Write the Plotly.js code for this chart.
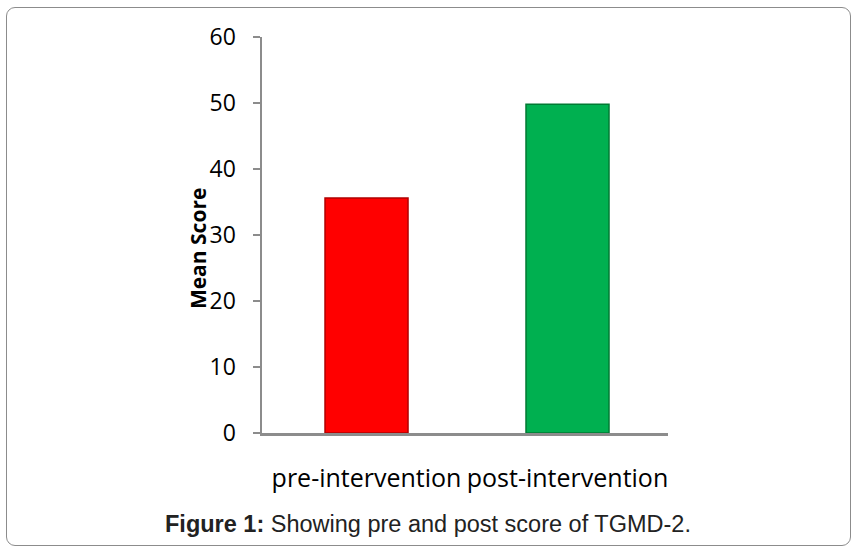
<!DOCTYPE html>
<html>
<head>
<meta charset="utf-8">
<script src="https://cdn.plot.ly/plotly-3.0.1.min.js"></script>
<style>
  html, body { margin:0; padding:0; background:#fff; }
  #wrap { position:relative; width:856px; height:551px; }
  #chart { width:856px; height:551px; }
  #frame { position:absolute; left:6px; top:7px; width:845px; height:539px;
           border:1.5px solid #8c8c8c; border-radius:9px; pointer-events:none; box-sizing:border-box; }
</style>
</head>
<body>
<div id="wrap">
  <div id="chart"></div>
  <div id="frame"></div>
</div>
<script>
const categories = ["pre-intervention", "post-intervention"];
const meanScores = [35.6, 49.8];
const barColors = ["#ff0000", "#00b050"];
const edgeColors = ["#b00000", "#007a33"];
const yTicks = [0, 10, 20, 30, 40, 50, 60];

const trace = {
  type: "bar",
  x: categories,
  y: meanScores,
  width: 0.413,
  marker: { color: barColors, line: { color: edgeColors, width: 1.5 } },
  hoverinfo: "x+y"
};

const layout = {
  width: 856, height: 551,
  margin: { l: 262, r: 188, t: 37, b: 118 },
  paper_bgcolor: "#ffffff",
  plot_bgcolor: "#ffffff",
  showlegend: false,
  font: { family: "Open Sans, Noto Sans, sans-serif", color: "#000" },
  xaxis: {
    type: "category",
    range: [-0.52, 1.5],
    showline: true, linecolor: "#8c8c8c", linewidth: 2.5,
    ticks: "", showgrid: false, zeroline: false,
    tickfont: { size: 25, color: "#000" },
    ticklabelstandoff: 21
  },
  yaxis: {
    range: [0, 60],
    tickvals: yTicks,
    showline: true, linecolor: "#8c8c8c", linewidth: 2.5,
    ticks: "outside", ticklen: 7, tickwidth: 2, tickcolor: "#8c8c8c",
    showgrid: false, zeroline: false,
    tickfont: { size: 23, color: "#000" },
    ticklabelstandoff: 12
  },
  annotations: [{
    xref: "paper", yref: "paper",
    x: -0.157, y: 0.465, xanchor: "center", yanchor: "middle",
    showarrow: false, textangle: -90,
    text: "<b>Mean Score</b>",
    font: { family: "Open Sans, Noto Sans, sans-serif", size: 21, color: "#000" }
  }, {
    xref: "paper", yref: "paper",
    x: 0.409, y: -0.229, xanchor: "center", yanchor: "middle",
    showarrow: false,
    text: "<b>Figure 1:</b> Showing pre and post score of TGMD-2.",
    font: { family: "Liberation Sans, Arial, sans-serif", size: 23.5, color: "#222" }
  }]
};

Plotly.newPlot("chart", [trace], layout, { displayModeBar: false, staticPlot: true });
</script>
</body>
</html>
